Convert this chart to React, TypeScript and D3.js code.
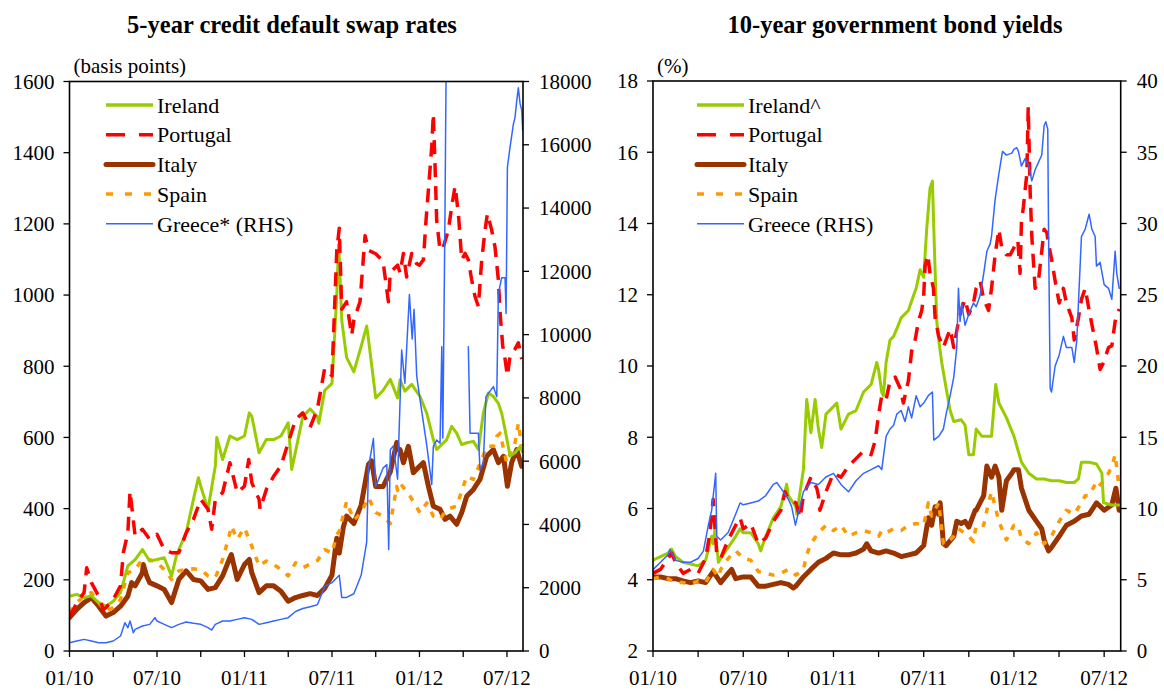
import React from "react";
import * as d3 from "d3";

type Pt = [number, number | null];

// x values are months since 1 Jan 2010
const xTickLabels = ["01/10", "07/10", "01/11", "07/11", "01/12", "07/12"];
const xLabelMonths = [0, 6, 12, 18, 24, 30];
const xMinorMonths = [0, 3, 6, 9, 12, 15, 18, 21, 24, 27, 30];
const monthEnd = 31.1;

const cdsLeftTicks = [0, 200, 400, 600, 800, 1000, 1200, 1400, 1600];
const cdsRightTicks = [0, 2000, 4000, 6000, 8000, 10000, 12000, 14000, 16000, 18000];
const yieldLeftTicks = [2, 4, 6, 8, 10, 12, 14, 16, 18];
const yieldRightTicks = [0, 5, 10, 15, 20, 25, 30, 35, 40];

const cdsLegend = ["Ireland", "Portugal", "Italy", "Spain", "Greece* (RHS)"];
const yieldLegend = ["Ireland^", "Portugal", "Italy", "Spain", "Greece (RHS)"];

// ---------- 5-year CDS (basis points) ----------
const cdsIreland: Pt[] = [[0,154],[0.5,159],[1,150],[1.5,155],[2,136],[2.5,126],[3,140],[3.5,164],[4,239],[4.5,257],[5,285],[5.5,253],[6,257],[6.5,262],[7,211],[7.35,271],[8,332],[8.5,426],[8.84,487],[9,463],[9.5,398],[10,520],[10.1,600],[10.5,538],[11,604],[11.5,594],[12,604],[12.33,669],[12.5,660],[13,557],[13.5,594],[14,594],[14.5,604],[15,641],[15.24,510],[15.5,560],[16,659],[16.5,680],[17,659],[17.1,640],[17.5,732],[18,752],[18.33,1000],[18.45,1141],[18.5,1105],[18.67,929],[19,825],[19.5,784],[20,856],[20.38,913],[20.5,877],[21,711],[21.5,732],[22,763],[22.5,711],[22.67,762],[23,730],[23.47,749],[24.04,715],[24.5,668],[24.95,594],[25.18,566],[25.87,594],[26.21,631],[26.55,612],[26.9,580],[27.24,585],[27.7,589],[28.04,566],[28.38,668],[28.73,725],[29.07,715],[29.41,696],[29.64,668],[29.87,622],[30.21,548],[30.55,557],[30.9,575],[31.05,560]];
const cdsPortugal: Pt[] = [[0,95],[0.5,136],[1,164],[1.18,234],[1.5,192],[2,154],[2.32,117],[2.5,122],[3,145],[3.5,183],[3.69,276],[4,332],[4.15,449],[4.5,323],[5,342],[5.5,314],[6,328],[6.5,285],[7,276],[7.5,276],[8,332],[8.5,370],[9,426],[9.5,398],[9.75,342],[10,426],[10.5,445],[11,529],[11.5,445],[12,463],[12.29,538],[12.5,473],[13,426],[13.07,398],[13.5,454],[14,491],[14.5,520],[15,585],[15.5,650],[16,669],[16.5,628],[17,680],[17.5,794],[18,773],[18.33,1126],[18.5,1188],[18.67,960],[19,981],[19.35,887],[19.5,929],[19.92,981],[20,1022],[20.27,1167],[20.5,1126],[21,1116],[21.5,1095],[21.87,981],[22,1064],[22.5,1084],[22.67,1062],[22.9,1117],[23.12,1051],[23.47,1117],[23.81,1088],[24,1084],[24.27,1099],[24.45,1210],[24.61,1294],[24.84,1416],[24.95,1509],[25.07,1360],[25.18,1210],[25.41,1126],[25.64,1135],[25.98,1183],[26.21,1248],[26.44,1306],[26.67,1229],[26.9,1099],[27.13,1117],[27.35,1099],[27.58,1043],[27.81,996],[28.04,968],[28.27,1099],[28.5,1183],[28.66,1229],[28.95,1183],[29.18,1135],[29.41,1043],[29.53,950],[29.71,857],[29.87,820],[30.03,773],[30.21,829],[30.55,848],[30.78,866],[31.01,820]];
const cdsItaly: Pt[] = [[0,94],[0.5,117],[1,136],[1.5,150],[2,126],[2.5,98],[3,108],[3.5,126],[4,154],[4.26,192],[4.5,183],[5,220],[5.06,243],[5.29,211],[5.5,192],[6,183],[6.5,173],[7,136],[7.5,201],[8,225],[8.5,201],[9,197],[9.5,173],[10,178],[10.5,211],[11,262],[11.1,271],[11.5,201],[12,243],[12.33,257],[12.5,220],[13,164],[13.5,183],[14,183],[14.5,168],[15,140],[15.5,150],[16,156],[16.5,161],[17,156],[17.5,176],[18,213],[18.33,317],[18.5,275],[18.78,348],[19,379],[19.5,358],[20,410],[20.5,524],[20.72,534],[21,462],[21.5,462],[22,503],[22.44,586],[22.5,566],[22.67,566],[22.9,529],[23.24,575],[23.58,501],[24,519],[24.27,529],[24.61,463],[24.95,407],[25.41,398],[25.75,370],[26.09,379],[26.55,356],[26.9,389],[27.24,435],[27.7,454],[28.15,482],[28.61,547],[29.07,566],[29.41,529],[29.76,547],[30.03,463],[30.32,529],[30.67,566],[31.01,519]];
const cdsSpain: Pt[] = [[0,108],[0.5,136],[1,154],[1.5,164],[2,136],[2.5,112],[3,122],[3.5,145],[4,220],[4.5,229],[5,257],[5.5,257],[6,248],[6.5,229],[7,201],[7.5,225],[8,229],[8.5,231],[9,229],[9.5,211],[10,206],[10.5,257],[11,332],[11.1,351],[11.5,314],[12,346],[12.5,295],[13,239],[13.5,253],[14,243],[14.5,229],[15,211],[15.5,248],[16,234],[16.5,244],[17,254],[17.5,285],[18,275],[18.33,327],[18.5,337],[19,420],[19.5,368],[20,389],[20.5,431],[21,389],[21.5,379],[22,358],[22.44,462],[22.5,451],[22.67,472],[23.35,435],[24.04,388],[24.5,416],[24.95,379],[25.41,370],[25.87,398],[26.55,407],[27.24,491],[27.7,482],[28.27,538],[28.61,575],[29.07,575],[29.3,603],[29.53,612],[29.98,529],[30.55,585],[30.78,640],[31.01,575]];
const cdsGreece: Pt[] = [[0,263],[0.5,316],[1,368],[1.5,316],[2,263],[2.5,263],[3,316],[3.5,474],[3.8,895],[4,737],[4.15,948],[4.38,579],[4.5,684],[5,790],[5.5,842],[5.86,1053],[6,948],[6.5,842],[7,737],[7.5,842],[8,916],[8.5,874],[9,842],[9.5,737],[9.75,663],[10,842],[10.5,948],[11,948],[11.5,1000],[12,1053],[12.5,1000],[13,842],[13.5,895],[14,948],[14.5,1000],[15,1053],[15.5,1250],[16,1343],[16.5,1401],[17,1459],[17.5,2043],[18,2160],[18.5,2393],[18.67,1693],[19,1693],[19.5,1810],[20,2393],[20.38,3444],[20.5,5779],[20.84,6713],[21,5195],[21.5,5779],[21.76,5896],[21.89,3211],[22,6363],[22.21,6480],[22.5,5429],[22.78,9515],[23,8464],[23.31,11266],[23.5,9865],[23.63,10799],[23.81,8697],[24.04,7935],[24.5,6500],[24.84,5260],[24.95,6460],[25.18,6670],[25.41,6565],[25.53,9617],[25.6,6730],[25.75,13818],[25.87,21000],[25.9,null],[27.35,9617],[27.47,6880],[28.04,6880],[28.15,5716],[28.38,5926],[28.56,8040],[29.07,8356],[29.3,8040],[29.41,11300],[29.64,11800],[29.87,11800],[29.94,10670],[30.03,15290],[30.21,15920],[30.44,16650],[30.55,16860],[30.67,17380],[30.78,17800],[30.9,17300],[31.01,17100],[31.08,16450]];

// ---------- 10-year government bond yields (%) ----------
const yldIreland: Pt[] = [[0,4.55],[0.5,4.65],[1,4.75],[1.24,4.86],[1.5,4.65],[2,4.49],[2.5,4.44],[3,4.39],[3.5,4.55],[3.9,5.22],[4,5.01],[4.12,5.43],[4.35,4.49],[4.5,4.6],[5,4.91],[5.5,5.22],[5.79,5.43],[6,5.32],[6.5,5.32],[7,5.01],[7.16,4.81],[7.5,5.22],[8,5.74],[8.5,6.05],[8.89,6.68],[9,6.36],[9.5,6.05],[9.56,5.84],[10,7.09],[10.22,9.06],[10.5,8.13],[10.78,9.06],[11,8.23],[11.22,7.71],[11.5,8.65],[12,8.86],[12.22,8.96],[12.5,8.23],[13,8.65],[13.5,8.75],[14,9.27],[14.5,9.48],[14.88,10.1],[15,9.9],[15.21,9.27],[15.32,9.17],[15.5,10.1],[15.76,10.73],[16,10.83],[16.21,11.04],[16.5,11.35],[16.98,11.56],[17.32,11.97],[17.5,12.18],[17.76,12.7],[18,12.49],[18.2,13.84],[18.42,14.99],[18.58,15.19],[18.71,13.32],[18.87,11.25],[19,10.73],[19.2,10.1],[19.49,9.38],[19.76,8.75],[20,8.44],[20.49,8.49],[20.75,8.34],[21,7.51],[21.31,7.51],[21.49,8.23],[21.86,8.03],[21.99,8.03],[22.51,8.03],[22.79,9.48],[23,8.96],[23.5,8.55],[24,8.03],[24.5,7.3],[24.99,6.99],[25.5,6.83],[26.01,6.83],[26.5,6.78],[27.01,6.78],[27.49,6.73],[28.01,6.73],[28.29,6.83],[28.49,7.3],[29,7.3],[29.49,7.25],[29.85,6.99],[29.96,6.16],[30.5,6.1],[31,6.1]];
const yldPortugal: Pt[] = [[0,4.18],[0.5,4.29],[1,4.6],[1.24,4.75],[1.5,4.49],[2,4.18],[2.5,4.29],[3,4.18],[3.5,4.6],[3.79,5.32],[4,6.26],[4.24,4.7],[4.5,4.6],[5,5.12],[5.5,5.53],[5.79,5.74],[6,5.43],[6.5,5.58],[7,5.01],[7.5,5.17],[8,5.64],[8.5,5.95],[8.78,6.47],[9,6.26],[9.5,6.16],[9.78,5.74],[10,6.36],[10.5,6.88],[10.89,6.57],[11,6.36],[11.1,5.95],[11.5,6.47],[12,6.99],[12.5,6.88],[13,7.19],[13.5,7.4],[14,7.61],[14.5,7.51],[14.77,7.9],[14.99,8.6],[15.21,9.17],[15.5,9.06],[15.76,9.58],[16.1,9.69],[16.43,9.38],[16.65,8.96],[16.98,9.58],[17.2,10.42],[17.43,10.73],[17.65,11.25],[17.87,11.56],[18,11.97],[18.09,12.8],[18.27,13.12],[18.42,12.6],[18.65,12.18],[18.76,11.35],[19,10.83],[19.31,10.52],[19.49,10.73],[19.76,11.04],[20,10.52],[20.31,11.25],[20.49,11.56],[20.75,11.87],[21,11.45],[21.31,11.77],[21.49,12.18],[21.75,12.39],[21.99,11.87],[22.31,11.56],[22.51,12.18],[22.75,13.12],[23,13.84],[23.19,13.32],[23.5,13.12],[23.75,13.12],[24,13.32],[24.26,13.53],[24.41,12.6],[24.5,14.05],[24.63,14.47],[24.86,15.4],[24.95,17.27],[25.02,16.0],[25.08,14.88],[25.19,13.64],[25.41,12.18],[25.63,12.39],[25.85,13.22],[26.01,13.84],[26.19,13.74],[26.3,13.43],[26.5,13.01],[26.74,12.39],[27.01,11.77],[27.29,12.18],[27.49,11.77],[27.85,11.35],[28.01,10.73],[28.29,11.35],[28.49,11.87],[28.74,12.18],[29,11.56],[29.29,10.94],[29.49,10.52],[29.73,9.9],[29.96,10.1],[30.29,10.52],[30.51,10.57],[30.73,11.25],[31,11.6]];
const yldItaly: Pt[] = [[0,4.08],[0.5,4.08],[1,4.03],[1.5,4.03],[2,3.97],[2.5,3.92],[3,3.97],[3.5,3.92],[4,4.23],[4.5,3.92],[5,4.18],[5.23,4.29],[5.5,4.03],[6,4.08],[6.5,4.08],[7,3.82],[7.5,3.82],[8,3.87],[8.5,3.92],[9,3.87],[9.33,3.77],[9.5,3.82],[10,4.08],[10.5,4.29],[11,4.49],[11.5,4.6],[12,4.75],[12.5,4.7],[13,4.7],[13.5,4.75],[14,4.86],[14.21,5.01],[14.5,4.81],[15,4.75],[15.5,4.81],[16,4.75],[16.5,4.65],[17,4.7],[17.5,4.75],[18,4.96],[18.31,5.74],[18.53,5.53],[18.76,6.05],[18.98,5.84],[19.09,6.16],[19.31,5.01],[19.49,4.96],[20,5.22],[20.2,5.64],[20.49,5.58],[20.75,5.64],[21,5.48],[21.42,5.95],[21.49,5.95],[21.99,6.36],[22.2,7.19],[22.51,6.88],[22.75,7.19],[23,6.88],[23.19,5.95],[23.5,6.78],[23.86,6.99],[24,7.09],[24.3,7.09],[24.5,6.57],[24.99,5.95],[25.5,5.64],[25.85,5.43],[26.01,5.12],[26.3,4.81],[26.5,4.91],[27.01,5.22],[27.49,5.53],[28.01,5.64],[28.49,5.79],[29,5.84],[29.49,6.16],[30,5.95],[30.51,6.1],[30.78,6.57],[31,5.95]];
const yldSpain: Pt[] = [[0,4.03],[0.5,4.08],[1,4.03],[1.5,3.92],[2,3.92],[2.5,3.87],[3,3.97],[3.5,3.92],[4,4.29],[4.35,4.08],[4.5,4.29],[5,4.6],[5.5,4.81],[6,4.6],[6.5,4.55],[7,4.23],[7.5,4.18],[8,4.13],[8.5,4.18],[9,4.29],[9.5,4.13],[10,4.29],[10.22,4.7],[10.5,5.01],[11,5.32],[11.5,5.53],[12,5.38],[12.5,5.53],[13,5.22],[13.5,5.32],[14,5.38],[14.5,5.32],[15,5.22],[15.21,5.38],[15.5,5.32],[16,5.43],[16.5,5.38],[16.98,5.53],[17.5,5.58],[18,5.53],[18.31,6.16],[18.53,5.79],[19,6.16],[19.31,5.01],[19.49,5.01],[20,5.22],[20.31,5.43],[20.49,5.38],[21,5.22],[21.31,5.07],[21.49,5.53],[21.99,5.53],[22.31,6.16],[22.51,6.47],[22.75,6.05],[23,5.64],[23.5,5.12],[24,5.53],[24.26,5.53],[24.5,5.17],[24.99,5.01],[25.5,5.32],[25.85,5.12],[26.01,5.01],[26.5,5.22],[26.74,5.43],[27.01,5.64],[27.49,5.95],[28.01,5.84],[28.49,6.16],[28.74,6.36],[29,6.36],[29.4,6.68],[29.49,6.57],[30,6.78],[30.29,6.99],[30.51,7.19],[30.73,7.51],[31,6.57]];
const yldGreece: Pt[] = [[0,5.71],[0.5,6.23],[1,6.75],[1.13,7.14],[1.5,6.36],[2,6.23],[2.5,6.23],[3,6.49],[3.35,7.01],[3.68,8.83],[3.9,9.87],[4.17,12.47],[4.24,8.05],[4.5,7.79],[5,8.31],[5.5,9.61],[5.79,10.39],[6,10.26],[6.5,10.39],[7,10.52],[7.5,10.91],[8,11.69],[8.23,11.82],[8.5,11.43],[9,10.65],[9.22,10.13],[9.47,8.83],[10,11.17],[10.5,11.82],[11,11.69],[11.5,12.21],[12,12.47],[12.5,11.69],[13,11.17],[13.5,11.95],[14,12.47],[14.5,12.73],[15,13.0],[15.21,12.73],[15.5,15.06],[15.76,15.58],[16,15.84],[16.21,16.62],[16.5,16.88],[16.76,16.1],[16.98,17.14],[17.2,16.36],[17.5,17.92],[17.76,17.14],[18,17.4],[18.31,17.92],[18.58,18.18],[18.67,14.8],[19,15.06],[19.31,15.58],[19.49,16.62],[19.76,17.92],[20,19.22],[20.2,21.3],[20.31,25.45],[20.42,23.12],[20.53,24.42],[20.75,22.86],[21,23.64],[21.31,24.42],[21.49,24.16],[21.75,24.94],[21.99,26.49],[22.2,28.05],[22.42,28.57],[22.51,29.09],[22.75,31.69],[23,33.5],[23.24,35.06],[23.5,34.8],[23.86,34.94],[24,35.2],[24.19,35.32],[24.3,35.06],[24.5,34.03],[24.74,34.55],[24.99,34.03],[25.19,32.99],[25.41,33.77],[25.63,34.29],[25.85,34.81],[26.01,36.88],[26.12,37.14],[26.25,36.62],[26.3,29.61],[26.41,18.44],[26.5,18.18],[26.74,20.0],[27.01,20.78],[27.29,22.08],[27.49,21.3],[27.85,21.3],[28.01,20.26],[28.18,21.82],[28.29,24.42],[28.49,29.09],[28.74,29.61],[29,30.65],[29.18,29.61],[29.4,29.09],[29.49,27.01],[29.73,27.27],[30,25.71],[30.29,25.45],[30.51,24.68],[30.73,28.05],[30.84,26.49],[31,25.45]];

const FONT = "Liberation Serif, Times New Roman, serif";

type Style = { color: string; width: number; dash?: string; legendDash?: string };
const STY: Record<string, Style> = {
  ireland: { color: "#99CC00", width: 3 },
  portugal: { color: "#FF0000", width: 3.5, dash: "14,9", legendDash: "19,14" },
  italy: { color: "#993300", width: 5 },
  spain: { color: "#FF9900", width: 3.5, dash: "6,8", legendDash: "7,12" },
  greece: { color: "#3366FF", width: 1.5 },
};

type Series = { key: string; data: Pt[]; rhs: boolean };

type PanelProps = {
  id: string;
  x0: number; x1: number; y0: number; y1: number;
  leftDomain: [number, number]; rightDomain: [number, number];
  leftTicks: number[]; rightTicks: number[];
  series: Series[]; title: string; titleX: number;
  unit: string; legend: string[];
  legendX: number;
};

const txt = (size: number, bold = false): React.CSSProperties => ({
  fontFamily: FONT,
  fontSize: size + "px",
  fontWeight: bold ? 700 : 400,
});

function Panel(p: PanelProps) {
  const x = d3.scaleLinear().domain([0, monthEnd]).range([p.x0, p.x1]);
  const yl = d3.scaleLinear().domain(p.leftDomain).range([p.y1, p.y0]);
  const yr = d3.scaleLinear().domain(p.rightDomain).range([p.y1, p.y0]);
  const drawOrder = ["italy", "spain", "ireland", "portugal", "greece"];
  const legendOrder = ["ireland", "portugal", "italy", "spain", "greece"];
  const clipId = "clip-" + p.id;
  const tickLen = 6;
  return (
    <g>
      <defs>
        <clipPath id={clipId}>
          <rect x={p.x0} y={p.y0} width={p.x1 - p.x0} height={p.y1 - p.y0} />
        </clipPath>
      </defs>
      <text x={p.titleX} y={33} textAnchor="middle" style={txt(24.5, true)}>{p.title}</text>
      <text x={p.x0 + 4} y={73} style={txt(21)}>{p.unit}</text>
      <g clipPath={`url(#${clipId})`}>
        {drawOrder.map((k) => {
          const s = p.series.find((q) => q.key === k)!;
          const y = s.rhs ? yr : yl;
          const line = d3.line<Pt>()
            .defined((d) => d[1] != null)
            .x((d) => x(d[0]))
            .y((d) => y(d[1] as number));
          const st = STY[k];
          return (
            <path key={k} d={line(s.data) || ""} fill="none" stroke={st.color}
              strokeWidth={st.width} strokeDasharray={st.dash}
              strokeLinejoin="round" strokeLinecap={st.dash ? "butt" : "round"} />
          );
        })}
      </g>
      <rect x={p.x0} y={p.y0} width={p.x1 - p.x0} height={p.y1 - p.y0} fill="none" stroke="#000" strokeWidth={1.6} />
      {p.leftTicks.map((t) => (
        <g key={"l" + t}>
          <line x1={p.x0 - tickLen} x2={p.x0} y1={yl(t)} y2={yl(t)} stroke="#000" strokeWidth={1.3} />
          <text x={p.x0 - 15} y={yl(t)} dy="0.35em" textAnchor="end" style={txt(21)}>{t}</text>
        </g>
      ))}
      {p.rightTicks.map((t) => (
        <g key={"r" + t}>
          <line x1={p.x1} x2={p.x1 + tickLen} y1={yr(t)} y2={yr(t)} stroke="#000" strokeWidth={1.3} />
          <text x={p.x1 + 16} y={yr(t)} dy="0.35em" textAnchor="start" style={txt(21)}>{t}</text>
        </g>
      ))}
      {xMinorMonths.map((m) => (
        <line key={"xt" + m} x1={x(m)} x2={x(m)} y1={p.y1} y2={p.y1 + tickLen} stroke="#000" strokeWidth={1.3} />
      ))}
      {xLabelMonths.map((m, i) => (
        <text key={"xl" + m} x={x(m)} y={685} textAnchor="middle" style={txt(21)}>{xTickLabels[i]}</text>
      ))}
      {legendOrder.map((k, i) => {
        const st = STY[k];
        const cy = 105 + i * 29.7;
        return (
          <g key={"lg" + k}>
            <line x1={p.legendX} x2={p.legendX + 47} y1={cy} y2={cy} stroke={st.color}
              strokeWidth={k === "italy" ? 5 : k === "greece" ? 1.6 : 3.5}
              strokeDasharray={st.legendDash} strokeLinecap={k === "italy" ? "round" : "butt"} />
            <text x={p.legendX + 51} y={cy} dy="0.35em" style={txt(22)}>{p.legend[i]}</text>
          </g>
        );
      })}
    </g>
  );
}

export default function App() {
  const cdsSeries: Series[] = [
    { key: "ireland", data: cdsIreland, rhs: false },
    { key: "portugal", data: cdsPortugal, rhs: false },
    { key: "italy", data: cdsItaly, rhs: false },
    { key: "spain", data: cdsSpain, rhs: false },
    { key: "greece", data: cdsGreece, rhs: true },
  ];
  const yldSeries: Series[] = [
    { key: "ireland", data: yldIreland, rhs: false },
    { key: "portugal", data: yldPortugal, rhs: false },
    { key: "italy", data: yldItaly, rhs: false },
    { key: "spain", data: yldSpain, rhs: false },
    { key: "greece", data: yldGreece, rhs: true },
  ];
  return (
    <svg width={1164} height={692} style={{ position: "absolute", left: 0, top: 0, background: "#fff" }}>
      <rect x={0} y={0} width={1164} height={692} fill="#fff" />
      <Panel id="cds" x0={69.5} x1={523} y0={81.5} y1={651}
        leftDomain={[0, 1600]} rightDomain={[0, 18000]}
        leftTicks={cdsLeftTicks} rightTicks={cdsRightTicks}
        series={cdsSeries} title="5-year credit default swap rates" titleX={292}
        unit="(basis points)" legend={cdsLegend} legendX={106} />
      <Panel id="yld" x0={653} x1={1120.7} y0={81} y1={651}
        leftDomain={[2, 18]} rightDomain={[0, 40]}
        leftTicks={yieldLeftTicks} rightTicks={yieldRightTicks}
        series={yldSeries} title="10-year government bond yields" titleX={895}
        unit="(%)" legend={yieldLegend} legendX={697} />
    </svg>
  );
}
